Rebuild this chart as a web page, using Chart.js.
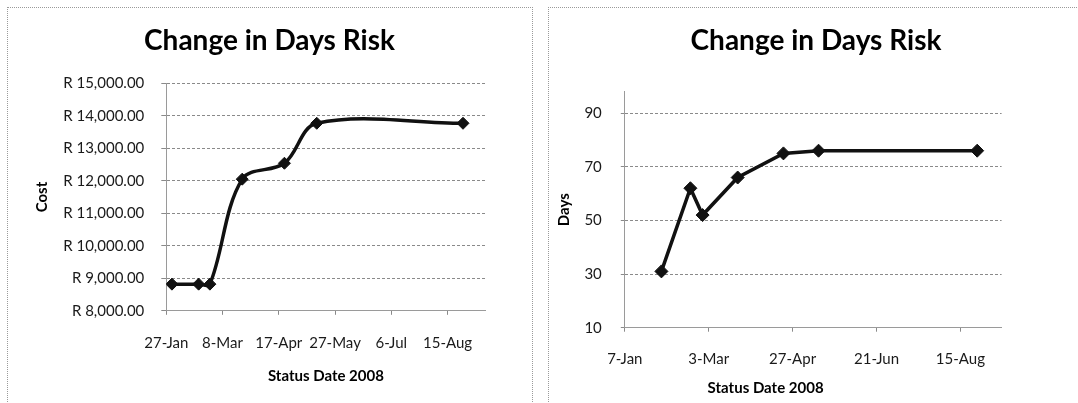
<!DOCTYPE html>
<html>
<head>
<meta charset="utf-8">
<title>Change in Days Risk</title>
<script src="https://cdn.jsdelivr.net/npm/chart.js@4.4.1/dist/chart.umd.min.js"></script>
<style>
  html, body { margin: 0; padding: 0; background: #fff; overflow: hidden; }
  body { width: 1078px; height: 403px; position: relative; }
  .frame { position: absolute; top: 7px; height: 430px; border-top: 1px dotted #9a9a9a; border-left: 1px dotted #9a9a9a; }
  #frameCost { left: 7px; width: 524px; border-right: 1px dotted #9a9a9a; }
  #frameDays { left: 548px; width: 600px; }
  canvas { position: absolute; top: 7px; }
  #costChart { left: 7px; }
  #daysChart { left: 548px; }
</style>
</head>
<body>
<div class="frame" id="frameCost"></div>
<div class="frame" id="frameDays"></div>
<canvas id="costChart" width="525" height="396"></canvas>
<canvas id="daysChart" width="536" height="396"></canvas>
<script>
// Status dates of each risk review (2008)
const statusDates = ["31-Jan", "19-Feb", "27-Feb", "22-Mar", "21-Apr", "14-May", "26-Aug"];
// Cost of the days risk (Rand)
const costValues = [8820, 8820, 8820, 12050, 12540, 13770, 13770];
// Days at risk
const daysValues = [31, 62, 52, 66, 75, 76, 76];

// Date axis tick labels and axis ranges
const costDateTicks = ["27-Jan", "8-Mar", "17-Apr", "27-May", "6-Jul", "15-Aug"];
const daysDateTicks = ["7-Jan", "3-Mar", "27-Apr", "21-Jun", "15-Aug"];
const costDateRange = ["27-Jan", "11-Sep"];
const daysDateRange = ["7-Jan", "11-Sep"];
const costValueTicks = [8000, 9000, 10000, 11000, 12000, 13000, 14000, 15000];
const daysValueTicks = [10, 30, 50, 70, 90];
const daysAxisTop = 98;

const MONTHS = ["Jan", "Feb", "Mar", "Apr", "May", "Jun", "Jul", "Aug", "Sep", "Oct", "Nov", "Dec"];
const MONTH_DAYS = [31, 28, 31, 30, 31, 30, 31, 31, 30, 31, 30, 31];

// "27-Jan" -> day of the year
function dayNumber(label) {
  const [d, m] = label.split("-");
  let n = Number(d);
  const mi = MONTHS.indexOf(m);
  for (let i = 0; i < mi; i++) n += MONTH_DAYS[i];
  return n;
}

function rand(v) {
  const s = Math.round(v).toString().replace(/\B(?=(\d{3})+(?!\d))/g, ",");
  return "R " + s + ".00";
}

function dateAxis(tickLabels, range, opts) {
  const byDay = new Map(tickLabels.map(l => [dayNumber(l), l]));
  return {
    type: "linear",
    min: dayNumber(range[0]),
    max: dayNumber(range[1]),
    afterBuildTicks: s => { s.ticks = tickLabels.map(l => ({ value: dayNumber(l) })); },
    afterFit: s => { s.height = opts.height; },
    grid: { drawOnChartArea: false, drawTicks: true, tickLength: 4, color: "#8a8a8a" },
    border: { color: "#9a9a9a", width: 1 },
    ticks: {
      autoSkip: false, maxRotation: 0, padding: opts.pad,
      color: "#1a1a1a", font: { size: 15 },
      callback: v => byDay.get(v) ?? ""
    },
    title: opts.title
  };
}

// Axis title drawn at an offset from the plot area
const offsetAxisTitle = {
  id: "offsetAxisTitle",
  afterDraw(chart, args, opts) {
    if (!opts || !opts.text) return;
    const { ctx, chartArea } = chart;
    ctx.save();
    ctx.font = "bold 15px Lato";
    ctx.fillStyle = "#000";
    ctx.textAlign = "center";
    ctx.textBaseline = "middle";
    ctx.fillText(opts.text, chartArea.left + opts.dx, chartArea.bottom + opts.dy);
    ctx.restore();
  }
};

const lineStyle = {
  borderColor: "#111",
  borderWidth: 3.5,
  pointStyle: "rectRot",
  pointBackgroundColor: "#111",
  pointBorderColor: "#111",
  pointBorderWidth: 1
};

const titleFont = { size: 28, weight: "bold", lineHeight: 1.2 };
const axisTitleFont = { size: 15, weight: "bold", lineHeight: 1.2 };

function draw() {
  Chart.defaults.font.family = "Lato";

  new Chart(document.getElementById("costChart"), {
    type: "line",
    data: {
      datasets: [{
        ...lineStyle,
        data: statusDates.map((d, i) => ({ x: dayNumber(d), y: costValues[i] })),
        tension: 0.35,
        pointRadius: 6
      }]
    },
    options: {
      responsive: false, animation: false, devicePixelRatio: 1,
      layout: { padding: 0 },
      plugins: {
        legend: { display: false },
        tooltip: { enabled: false },
        title: { display: true, text: "Change in Days Risk", color: "#000", font: titleFont, padding: { top: 17.6, bottom: 25.1 } }
      },
      scales: {
        x: dateAxis(costDateTicks, costDateRange, {
          height: 92.2, pad: 19.3,
          title: { display: true, text: "Status Date 2008", color: "#000", font: axisTitleFont, padding: { top: 0, bottom: 18 } }
        }),
        y: {
          min: costValueTicks[0],
          max: costValueTicks[costValueTicks.length - 1],
          afterBuildTicks: s => { s.ticks = costValueTicks.map(v => ({ value: v })); },
          afterFit: s => { s.width = 159.3; },
          grid: { color: "#8a8a8a", tickLength: 5, tickColor: "#8a8a8a" },
          border: { color: "#9a9a9a", dash: [3, 2] },
          ticks: { padding: 17, color: "#1a1a1a", font: { size: 15 }, callback: v => rand(v) },
          title: { display: true, text: "Cost", color: "#000", font: axisTitleFont, padding: { top: 26, bottom: 0 } }
        },
        yRight: {
          position: "right", display: true,
          ticks: { display: false }, grid: { display: false }, border: { display: false },
          afterFit: s => { s.width = 46.5; }
        }
      }
    }
  });

  new Chart(document.getElementById("daysChart"), {
    type: "line",
    plugins: [offsetAxisTitle],
    data: {
      datasets: [{
        ...lineStyle,
        data: statusDates.map((d, i) => ({ x: dayNumber(d), y: daysValues[i] })),
        tension: 0,
        pointRadius: 6.5
      }]
    },
    options: {
      responsive: false, animation: false, devicePixelRatio: 1,
      layout: { padding: 0 },
      plugins: {
        legend: { display: false },
        tooltip: { enabled: false },
        title: { display: true, text: "Change in Days Risk", color: "#000", font: titleFont, padding: { top: 17.6, bottom: 33.5 } },
        offsetAxisTitle: { text: "Status Date 2008", dx: 140.8, dy: 60.8 }
      },
      scales: {
        x: dateAxis(daysDateTicks, daysDateRange, { height: 75.3, pad: 18.3, title: { display: false } }),
        y: {
          min: daysValueTicks[0],
          max: daysAxisTop,
          afterBuildTicks: s => { s.ticks = daysValueTicks.map(v => ({ value: v })); },
          afterFit: s => { s.width = 76.8; },
          grid: { color: "#8a8a8a", tickLength: 4, tickColor: "#8a8a8a" },
          border: { color: "#9a9a9a", dash: [3, 2] },
          ticks: { padding: 19, color: "#1a1a1a", font: { size: 15 } },
          title: { display: true, text: "Days", color: "#000", font: axisTitleFont, padding: { top: 7, bottom: 0 } }
        },
        yRight: {
          position: "right", display: true,
          ticks: { display: false }, grid: { display: false }, border: { display: false },
          afterFit: s => { s.width = 82.4; }
        }
      }
    }
  });
}

Promise.all([
  document.fonts.load("bold 28px Lato"),
  document.fonts.load("15px Lato"),
  document.fonts.load("bold 15px Lato")
]).then(draw, draw);
</script>
</body>
</html>
